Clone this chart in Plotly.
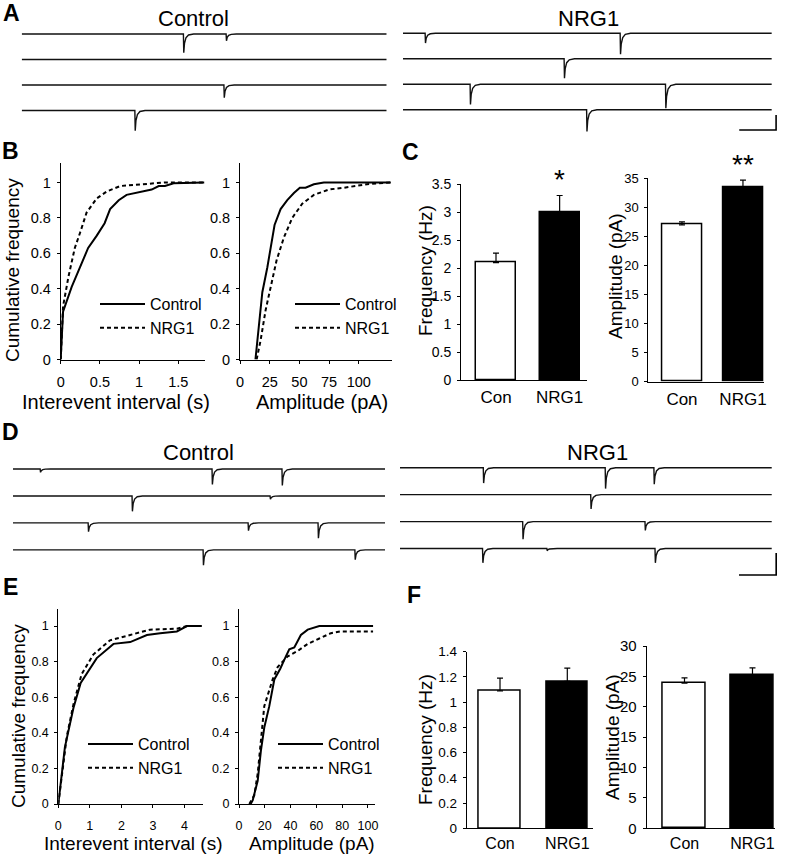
import plotly.graph_objects as go

W, H = 787, 854
FONT = "Liberation Sans, Arial, Helvetica, sans-serif"
BLACK = "#000000"

# ---------------- DATA ----------------
# Example sweeps: event times (ms) and amplitudes (pA) per sweep (4 sweeps, 1000 ms each)
A_ctrl_times = [[443, 560], [], [554], [310]]
A_ctrl_amps = [[25, 9], [], [17], [27]]
A_nrg_times = [[60, 589], [437], [182, 712], [498]]
A_nrg_amps = [[13, 28], [26], [27, 32], [29]]

D_ctrl_times = [[73, 535, 723], [320, 691], [202, 632, 820], [511, 919]]
D_ctrl_amps = [[3, 14, 15], [14, 3], [8, 7, 14], [14, 9]]
D_nrg_times = [[224, 552, 683], [513], [330, 659], [222, 395, 686]]
D_nrg_amps = [[14, 19, 15], [13], [16, 8], [13, 2, 13]]

SWEEP_MS = 1000
SCALE_MS = 100
SCALE_PA = 20

# Cumulative distributions, panel B
B_int_ctrl_x = [0, 0.03, 0.14, 0.25, 0.35, 0.46, 0.56, 0.63, 0.74, 0.84, 0.99, 1.16, 1.25, 1.33, 1.44, 1.83]
B_int_ctrl_y = [0, 0.27, 0.41, 0.52, 0.63, 0.70, 0.77, 0.85, 0.90, 0.93, 0.945, 0.96, 0.98, 0.98, 0.995, 1.0]
B_int_nrg_x = [0, 0.03, 0.10, 0.18, 0.25, 0.33, 0.46, 0.59, 0.76, 1.03, 1.33, 1.83]
B_int_nrg_y = [0, 0.30, 0.47, 0.63, 0.72, 0.83, 0.91, 0.95, 0.98, 0.99, 1.0, 1.0]
B_amp_ctrl_x = [13, 18.8, 23, 26.3, 29.1, 34.2, 39.8, 45.4, 50.4, 55.2, 62.2, 70.6, 127]
B_amp_ctrl_y = [0, 0.38, 0.52, 0.64, 0.76, 0.85, 0.90, 0.94, 0.97, 0.97, 0.99, 1.0, 1.0]
B_amp_nrg_x = [14, 17.4, 21.6, 26.3, 30.8, 37, 44, 52.4, 62.2, 74.8, 87.4, 107, 127]
B_amp_nrg_y = [0, 0.11, 0.28, 0.43, 0.56, 0.69, 0.80, 0.88, 0.93, 0.96, 0.97, 0.99, 1.0]

# Cumulative distributions, panel E
E_int_ctrl_x = [0, 0.21, 0.48, 0.71, 1.22, 1.75, 2.28, 2.81, 3.23, 3.76, 4.08, 4.55]
E_int_ctrl_y = [0, 0.32, 0.54, 0.68, 0.82, 0.90, 0.91, 0.95, 0.96, 0.97, 1.0, 1.0]
E_int_nrg_x = [0, 0.14, 0.27, 0.48, 0.74, 1.11, 1.64, 2.28, 2.91, 3.76, 4.08, 4.55]
E_int_nrg_y = [0, 0.21, 0.38, 0.56, 0.73, 0.84, 0.92, 0.95, 0.98, 0.985, 1.0, 1.0]
E_amp_ctrl_x = [9, 10.6, 14.5, 17, 19.6, 23.5, 27.4, 32, 35.1, 39, 42.9, 48, 53.3, 62.3, 104]
E_amp_ctrl_y = [0, 0.02, 0.13, 0.30, 0.43, 0.55, 0.70, 0.76, 0.81, 0.87, 0.88, 0.95, 0.98, 1.0, 1.0]
E_amp_nrg_x = [8, 11.9, 14.5, 17, 19.6, 23.5, 26.1, 30, 37.8, 45.5, 53.3, 62.3, 71.3, 79, 104]
E_amp_nrg_y = [0, 0.05, 0.17, 0.36, 0.55, 0.64, 0.70, 0.77, 0.83, 0.86, 0.90, 0.93, 0.96, 0.97, 0.97]

# Bar charts (mean, SEM)
groups = ["Con", "NRG1"]
C_freq_mean = [2.1, 3.0]
C_freq_sem = [0.17, 0.30]
C_amp_mean = [27.0, 33.5]
C_amp_sem = [0.5, 1.2]
F_freq_mean = [1.09, 1.165]
F_freq_sem = [0.10, 0.105]
F_amp_mean = [23.9, 25.2]
F_amp_sem = [0.85, 1.2]
C_stars = ["*", "**"]

# event template (style of a single synaptic event)
EVENT_DT = [0, 1, 3, 7, 14, 28]
EVENT_FRAC = [0, -1, -0.5, -0.2, -0.05, 0]


def xd(a, b):
    return [a / W, b / W]


def yd(top, bottom):
    return [1 - bottom / H, 1 - top / H]


def sweeps_xy(times, amps, gap):
    xs, ys = [], []
    for i, (tt, aa) in enumerate(zip(times, amps)):
        off = -i * gap
        xs.append(0)
        ys.append(off)
        for t, a in sorted(zip(tt, aa)):
            for dt, f in zip(EVENT_DT, EVENT_FRAC):
                xs.append(t + dt)
                ys.append(off + f * a)
        xs.append(SWEEP_MS)
        ys.append(off)
        xs.append(None)
        ys.append(None)
    return xs, ys


fig = go.Figure()
layout = dict(
    width=W, height=H, margin=dict(l=0, r=0, t=0, b=0),
    paper_bgcolor="white", plot_bgcolor="rgba(0,0,0,0)",
    template="none", showlegend=True,
    font=dict(family=FONT, color=BLACK),
)

# ---------- trace panels (A, D) ----------
A_PXPA, A_GAP = 0.75, 34
D_PXPA, D_GAP = 1.1, 24.5
trace_panels = [
    (1, A_ctrl_times, A_ctrl_amps, (21.7, 386.7), (20, 138), 34.0, A_PXPA, A_GAP, SWEEP_MS, None),
    (2, A_nrg_times, A_nrg_amps, (403, 777.2), (20, 138), 33.3, A_PXPA, A_GAP, 1015, 130.0),
    (3, D_ctrl_times, D_ctrl_amps, (13, 385), (458, 582), 469.0, D_PXPA, D_GAP, SWEEP_MS, None),
    (4, D_nrg_times, D_nrg_amps, (400, 777.3), (458, 582), 467.7, D_PXPA, D_GAP, 1015, 575.0),
]
for idx, tms, amps, (x0, x1), (yt, yb), base, pxpa, gap, rend, sb in trace_panels:
    xs, ys = sweeps_xy(tms, amps, gap)
    fig.add_trace(go.Scatter(x=xs, y=ys, mode="lines", line=dict(color="#111111", width=1.4),
                             xaxis=f"x{idx}", yaxis=f"y{idx}", showlegend=False, hoverinfo="skip",
                             cliponaxis=False))
    if sb is not None:
        ybar = -(sb - base) / pxpa
        xe = 1012
        fig.add_trace(go.Scatter(x=[xe - SCALE_MS, xe, xe], y=[ybar, ybar, ybar + SCALE_PA], mode="lines",
                                 line=dict(color=BLACK, width=1.6), xaxis=f"x{idx}", yaxis=f"y{idx}",
                                 showlegend=False, hoverinfo="skip", cliponaxis=False))
    layout[f"xaxis{idx}"] = dict(domain=xd(x0, x1), range=[0, rend], visible=False, anchor=f"y{idx}")
    layout[f"yaxis{idx}"] = dict(domain=yd(yt, yb), range=[-(yb - base) / pxpa, (base - yt) / pxpa],
                                 visible=False, anchor=f"x{idx}")

# ---------- cumulative panels (B, E) ----------
def line_axes(idx, xdom, ydom, xr, yr, xt, yt_vals, fs, xstand, ystand):
    common = dict(showline=True, linecolor=BLACK, linewidth=1, ticks="outside", ticklen=3,
                  tickwidth=1, tickcolor=BLACK, showgrid=False, zeroline=False,
                  tickfont=dict(size=fs, family=FONT, color=BLACK))
    layout[f"xaxis{idx}"] = dict(common, domain=xdom, range=xr, tickvals=xt, anchor=f"y{idx}",
                                 ticklabelstandoff=xstand)
    layout[f"yaxis{idx}"] = dict(common, domain=ydom, range=yr, tickvals=yt_vals, anchor=f"x{idx}",
                                 ticklabelstandoff=ystand)


cum_panels = [
    (5, B_int_ctrl_x, B_int_ctrl_y, B_int_nrg_x, B_int_nrg_y, "legend"),
    (6, B_amp_ctrl_x, B_amp_ctrl_y, B_amp_nrg_x, B_amp_nrg_y, "legend2"),
    (7, E_int_ctrl_x, E_int_ctrl_y, E_int_nrg_x, E_int_nrg_y, "legend3"),
    (8, E_amp_ctrl_x, E_amp_ctrl_y, E_amp_nrg_x, E_amp_nrg_y, "legend4"),
]
for idx, cx, cy, nx, ny, lg in cum_panels:
    fig.add_trace(go.Scatter(x=cx, y=cy, mode="lines", name="Control", legend=lg,
                             line=dict(color=BLACK, width=2), xaxis=f"x{idx}", yaxis=f"y{idx}"))
    fig.add_trace(go.Scatter(x=nx, y=ny, mode="lines", name="NRG1", legend=lg,
                             line=dict(color=BLACK, width=2, dash="4px,3px"), xaxis=f"x{idx}", yaxis=f"y{idx}"))

yB = yd(163, 359.5)
yE = yd(609, 804)
cum_y = [0, 0.2, 0.4, 0.6, 0.8, 1]
line_axes(5, xd(60.7, 205), yB, [0, 1.84], [0, 1.11], [0, 0.5, 1, 1.5], cum_y, 14.5, 6, 3)
line_axes(6, xd(240, 392), yB, [0, 128], [0, 1.11], [0, 25, 50, 75, 100], cum_y, 14.5, 6, 3)
line_axes(7, xd(58.3, 202.7), yE, [0, 4.58], [0, 1.096], [0, 1, 2, 3, 4], cum_y, 12.5, 7, 3)
line_axes(8, xd(239, 375), yE, [0, 105.5], [0, 1.096], [0, 20, 40, 60, 80, 100], cum_y, 12.5, 7, 3)

leg_common = dict(bgcolor="rgba(0,0,0,0)", font=dict(size=16, family=FONT, color=BLACK),
                  xanchor="left", yanchor="top", itemwidth=45, tracegroupgap=0)
legend_pos = {"legend": (95, 287), "legend2": (290, 287), "legend3": (83, 727), "legend4": (273, 727)}
for k, (px, py) in legend_pos.items():
    layout[k] = dict(leg_common, x=px / W, y=1 - py / H)

# ---------- bar panels (C, F) ----------
def bar_panel(idx, means, sems, xdom, ydom, xr, yr, ytick, bw, yfs, xfs, xstand):
    fig.add_trace(go.Bar(x=[0, 1], y=means, width=bw, marker=dict(color=["white", BLACK],
                         line=dict(color=BLACK, width=1.5)),
                         error_y=dict(type="data", array=sems, arrayminus=[0, 0], symmetric=False,
                                      color=BLACK, thickness=1.2, width=3),
                         xaxis=f"x{idx}", yaxis=f"y{idx}", showlegend=False))
    layout[f"xaxis{idx}"] = dict(domain=xdom, range=xr, tickvals=[0, 1], ticktext=groups, ticks="",
                                 showline=True, linecolor=BLACK, linewidth=1, showgrid=False, zeroline=False,
                                 tickfont=dict(size=xfs, family=FONT, color=BLACK), anchor=f"y{idx}",
                                 ticklabelstandoff=xstand)
    layout[f"yaxis{idx}"] = dict(domain=ydom, range=yr, dtick=ytick, tick0=0, ticks="outside", ticklen=3,
                                 tickcolor=BLACK, showline=True, linecolor=BLACK, linewidth=1,
                                 showgrid=False, zeroline=False, anchor=f"x{idx}",
                                 tickfont=dict(size=yfs, family=FONT, color=BLACK), ticklabelstandoff=3)


bar_panel(9, C_freq_mean, C_freq_sem, xd(461, 587), yd(184.3, 380), [-0.55, 1.43], [0, 3.5], 0.5, 0.63, 14, 17, 2)
bar_panel(10, C_amp_mean, C_amp_sem, xd(648.3, 764), yd(178.3, 381.7), [-0.552, 1.345], [0, 35], 5, 0.66, 13, 17, 2)
bar_panel(11, F_freq_mean, F_freq_sem, xd(466.7, 593), yd(651.7, 828.3), [-0.495, 1.382], [0, 1.4], 0.2, 0.62, 13.5, 16, 0)
bar_panel(12, F_amp_mean, F_amp_sem, xd(646.7, 775), yd(646, 828.3), [-0.556, 1.331], [0, 30], 5, 0.63, 15, 16, 0)
layout["bargap"] = 0

# ---------- text ----------
ann = []


def text(t, x, y, size, bold=False, angle=0):
    ann.append(dict(text=f"<b>{t}</b>" if bold else t, x=x / W, y=1 - y / H, xref="paper", yref="paper",
                    showarrow=False, xanchor="center", yanchor="middle", textangle=angle,
                    font=dict(size=size, family=FONT, color=BLACK)))


for letter, x, y in [("A", 11, 13), ("B", 10, 151), ("C", 410, 152), ("D", 10, 432), ("E", 10, 587), ("F", 414, 595)]:
    text(letter, x, y, 23, bold=True)
text("Control", 193, 18, 22)
text("NRG1", 588, 18, 22)
text("Control", 198, 452, 22)
text("NRG1", 597, 452, 22)
text("Cumulative frequency", 12, 270, 19, angle=-90)
text("Interevent interval (s)", 116, 402, 20)
text("Amplitude (pA)", 322, 402, 20)
text("Cumulative frequency", 18, 716, 19, angle=-90)
text("Interevent interval (s)", 133, 843, 19)
text("Amplitude (pA)", 312, 843, 19)
text("Frequency (Hz)", 425, 271, 19, angle=-90)
text("Amplitude (pA)", 615, 276, 19, angle=-90)
text("Frequency (Hz)", 425, 740, 19, angle=-90)
text("Amplitude (pA)", 612, 737, 19, angle=-90)
# significance stars above the NRG1 bars in C
ann.append(dict(text=C_stars[0], x=1, y=C_freq_mean[1] + C_freq_sem[1], xref="x9", yref="y9", showarrow=False,
                yanchor="bottom", yshift=-2, font=dict(size=28, family=FONT, color=BLACK)))
ann.append(dict(text=C_stars[1], x=1, y=C_amp_mean[1] + C_amp_sem[1], xref="x10", yref="y10", showarrow=False,
                yanchor="bottom", yshift=-2, font=dict(size=28, family=FONT, color=BLACK)))
layout["annotations"] = ann

fig.update_layout(**layout)
fig.write_html("out.html", config={"displayModeBar": False},
               post_script="document.body.style.margin='0';document.body.style.overflow='hidden';")
